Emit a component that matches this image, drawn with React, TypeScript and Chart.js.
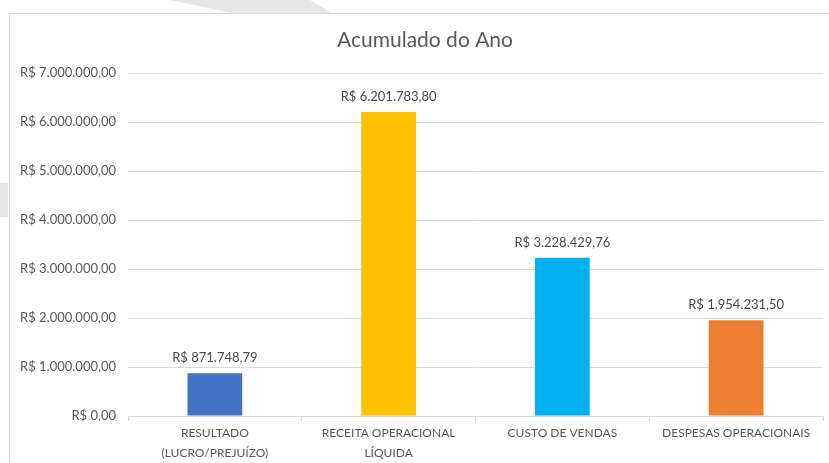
import React, { useEffect, useRef } from "react";
import { Chart, registerables } from "chart.js";

Chart.register(...registerables);

const chartTitle = "Acumulado do Ano";
const categories: (string | string[])[] = [
  ["RESULTADO", "(LUCRO/PREJUÍZO)"],
  ["RECEITA OPERACIONAL", "LÍQUIDA"],
  "CUSTO DE VENDAS",
  "DESPESAS OPERACIONAIS",
];
const values = [871748.79, 6201783.8, 3228429.76, 1954231.5];
const barColors = ["#4472C4", "#FFC000", "#00B0F0", "#ED7D31"];
const yMin = 0;
const yMax = 7000000;
const yStep = 1000000;

const FONT = "Lato, 'Open Sans', sans-serif";
const TEXT = "#595959";
const GRID = "#d9d9d9";

function formatBRL(v: number): string {
  const fixed = Math.abs(v).toFixed(2);
  const [intPart, dec] = fixed.split(".");
  const withDots = intPart.replace(/\B(?=(\d{3})+(?!\d))/g, ".");
  return "R$ " + (v < 0 ? "-" : "") + withDots + "," + dec;
}

const dataLabelPlugin = {
  id: "dataLabels",
  afterDatasetsDraw(chart: any) {
    const ctx = chart.ctx;
    const meta = chart.getDatasetMeta(0);
    ctx.save();
    ctx.font = `13px ${FONT}`;
    ctx.fillStyle = "#4a4a4a";
    ctx.textAlign = "center";
    ctx.textBaseline = "middle";
    meta.data.forEach((bar: any, i: number) => {
      ctx.fillText(formatBRL(values[i]), bar.x, bar.y - 15);
    });
    ctx.restore();
  },
};

const titlePlugin = {
  id: "customTitle",
  afterDraw(chart: any) {
    const ctx = chart.ctx;
    ctx.save();
    ctx.font = `21px ${FONT}`;
    ctx.fillStyle = TEXT;
    ctx.textAlign = "center";
    ctx.textBaseline = "alphabetic";
    ctx.fillText(chartTitle, 425, 47);
    ctx.restore();
  },
};

export default function App() {
  const canvasRef = useRef<HTMLCanvasElement | null>(null);

  useEffect(() => {
    document.body.style.margin = "0";
    document.body.style.overflow = "hidden";
    const canvas = canvasRef.current;
    if (!canvas) return;
    const chart = new Chart(canvas, {
      type: "bar",
      data: {
        labels: categories,
        datasets: [
          {
            data: values,
            backgroundColor: barColors,
            borderWidth: 0,
            categoryPercentage: 1,
            barPercentage: 0.315,
          },
        ],
      },
      options: {
        responsive: false,
        animation: false,
        devicePixelRatio: 1,
        layout: { padding: { left: 0, right: 6, top: 73, bottom: 0 } },
        plugins: {
          legend: { display: false },
          tooltip: { enabled: false },
          title: { display: false },
        },
        scales: {
          x: {
            grid: {
              display: true,
              drawOnChartArea: false,
              drawTicks: true,
              tickLength: 5,
              color: GRID,
              offset: true,
            },
            border: { display: true, color: GRID, width: 1 },
            ticks: {
              color: TEXT,
              font: { family: FONT, size: 12, lineHeight: 20 / 12 },
              padding: 2,
              maxRotation: 0,
              autoSkip: false,
            },
            afterFit(scale: any) {
              scale.height = 47;
            },
          },
          y: {
            min: yMin,
            max: yMax,
            grid: { color: GRID, drawTicks: false, lineWidth: 1 },
            border: { display: false },
            ticks: {
              stepSize: yStep,
              color: TEXT,
              padding: 12,
              font: { family: FONT, size: 13 },
              callback: (v: any) => formatBRL(Number(v)),
            },
            afterFit(scale: any) {
              scale.width = 128;
            },
          },
        },
      },
      plugins: [dataLabelPlugin, titlePlugin],
    });
    return () => chart.destroy();
  }, []);

  return (
    <div style={{ position: "relative", width: 829, height: 463, overflow: "hidden", background: "#fff" }}>
      <div
        style={{
          position: "absolute",
          left: 0,
          top: 0,
          width: 829,
          height: 14,
          background: "#e6e6e6",
          clipPath: "polygon(170px 0px, 310px 0px, 333px 14px, 237px 14px)",
        }}
      />
      <div style={{ position: "absolute", left: 0, top: 183, width: 8, height: 34, background: "#e6e6e6" }} />
      <div
        style={{
          position: "absolute",
          left: 9,
          top: 13,
          width: 840,
          height: 480,
          border: "1px solid #d9d9d9",
          background: "#fff",
        }}
      />
      <canvas
        ref={canvasRef}
        width={829}
        height={463}
        style={{ position: "absolute", left: 0, top: 0, width: 829, height: 463 }}
      />
    </div>
  );
}
